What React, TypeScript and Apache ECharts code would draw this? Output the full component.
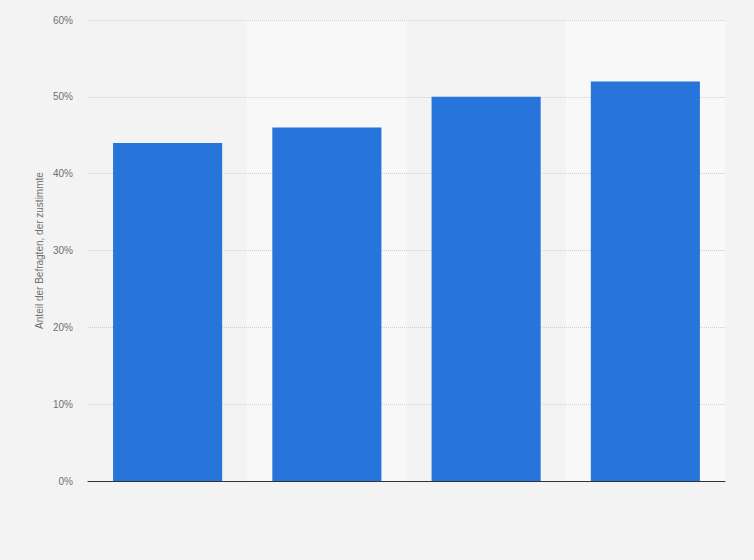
import React, { useEffect, useRef } from 'react';
import * as echarts from 'echarts';

const categories = ['A', 'B', 'C', 'D'];
const shares = [44, 46, 50, 52];
const yTicks = { min: 0, max: 60, interval: 10 };

export default function App() {
  const chartRef = useRef<HTMLDivElement>(null);

  useEffect(() => {
    document.body.style.margin = '0';
    if (!chartRef.current) return;
    const chart = echarts.init(chartRef.current, null, { renderer: 'svg' });

    chart.setOption({
      animation: false,
      backgroundColor: '#f3f3f3',
      textStyle: { fontFamily: 'Liberation Sans, Arial, sans-serif' },
      grid: { left: 88, right: 29, top: 20, bottom: 79, containLabel: false },
      xAxis: {
        type: 'category',
        data: categories,
        z: 0,
        axisLine: { lineStyle: { color: '#333', width: 1 } },
        axisTick: { show: false },
        axisLabel: { show: false },
        splitArea: { show: true, areaStyle: { color: ['rgba(0,0,0,0)', '#f8f8f8'] } }
      },
      yAxis: {
        type: 'value',
        z: 1,
        min: yTicks.min,
        max: yTicks.max,
        interval: yTicks.interval,
        name: 'Anteil der Befragten, der zustimmte',
        nameLocation: 'middle',
        nameGap: 44,
        nameMoveOverlap: false,
        nameTextStyle: { color: '#707070', fontSize: 10 },
        axisLine: { show: false },
        axisTick: { show: false },
        axisLabel: { color: '#707070', fontSize: 10, margin: 15, formatter: '{value}%' },
        splitLine: { showMinLine: false, lineStyle: { color: '#cfcfcf', type: [1, 1] } }
      },
      series: [
        {
          type: 'bar',
          data: shares,
          barWidth: '68.5%',
          itemStyle: { color: '#2775db' }
        }
      ]
    });

    return () => {
      chart.dispose();
    };
  }, []);

  return <div ref={chartRef} style={{ width: 754, height: 560 }} />;
}
